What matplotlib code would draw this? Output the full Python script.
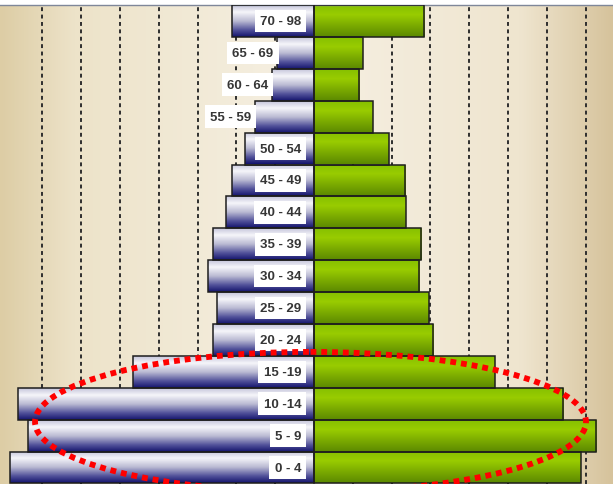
import numpy as np
import matplotlib
matplotlib.use("Agg")
import matplotlib.pyplot as plt
from matplotlib.colors import LinearSegmentedColormap
from matplotlib.patches import Ellipse

# age groups, top to bottom
groups = ["70 - 98", "65 - 69", "60 - 64", "55 - 59", "50 - 54", "45 - 49", "40 - 44",
          "35 - 39", "30 - 34", "25 - 29", "20 - 24", "15 -19", "10 -14", "5 - 9", "0 - 4"]
male = [2.11, 0.95, 1.08, 1.52, 1.78, 2.11, 2.27, 2.60, 2.72, 2.49, 2.60, 4.66, 7.63, 7.37, 7.84]
female = [2.84, 1.26, 1.16, 1.52, 1.93, 2.35, 2.37, 2.76, 2.71, 2.96, 3.07, 4.66, 6.42, 7.27, 6.88]
grid_ticks = [-7, -6, -5, -4, -3, -2, -1, 1, 2, 3, 4, 5, 6, 7]

blue_cmap = LinearSegmentedColormap.from_list(
    "blue", [(0.0, "#c4c4da"), (0.22, "#f6f6fa"), (0.5, "#babad3"), (0.78, "#52529a"), (1.0, "#12126c")])
green_cmap = LinearSegmentedColormap.from_list(
    "green", [(0.0, "#86c000"), (0.3, "#99cc00"), (1.0, "#5b8800")])
bg_cmap = LinearSegmentedColormap.from_list(
    "bg", [(0.0, "#ddcda5"), (0.12, "#ede3c9"), (0.5, "#f6f0e3"), (0.85, "#efe5cf"), (1.0, "#d6c39c")])

fig = plt.figure(figsize=(6.13, 4.85), dpi=100)
fig.patch.set_facecolor("white")
ax = fig.add_axes([0, 0, 1, 1 - 6 / 485])

xlim = (-314 / 38.8, 299 / 38.8)
ylim = (-0.5 + 479 / 31.9, -0.5)

# background
bg = np.linspace(0, 1, 256).reshape(1, -1)
ax.imshow(bg, cmap=bg_cmap, extent=[0, 1, 0, 1], transform=ax.transAxes,
          aspect="auto", zorder=0)

for g in grid_ticks:
    ax.axvline(g, color="#2e2e2e", lw=1.4, linestyle=(0, (2.0, 1.8)), zorder=1)

y = np.arange(len(groups))
grad = np.linspace(0, 1, 256).reshape(-1, 1)

bars_m = ax.barh(y, [-v for v in male], height=1.0, facecolor="none",
                 edgecolor="#1e1e1e", lw=1.1, zorder=3)
bars_f = ax.barh(y, female, height=1.0, facecolor="none",
                 edgecolor="#1e1e1e", lw=1.1, zorder=3)

for bars, cmap in ((bars_m, blue_cmap), (bars_f, green_cmap)):
    for b in bars:
        x0 = min(b.get_x(), b.get_x() + b.get_width())
        x1 = max(b.get_x(), b.get_x() + b.get_width())
        y0 = b.get_y()
        y1 = y0 + b.get_height()
        im = ax.imshow(grad, cmap=cmap, extent=[x0, x1, y1, y0],
                       aspect="auto", zorder=2, interpolation="bilinear")
        im.set_clip_path(b)

# age labels
for i, (lab, v) in enumerate(zip(groups, male)):
    if v < 1.6:
        xt = -v - 0.1
    else:
        xt = -0.33
    ax.text(xt, i, lab, ha="right", va="center", fontsize=9.5, fontweight="bold",
            family=["Liberation Sans", "DejaVu Sans"], color="#363636", zorder=4,
            bbox=dict(boxstyle="square,pad=0.4", facecolor="white", edgecolor="none"))

# red dotted ellipse around the youngest groups
ell = Ellipse((-0.09, 12.57), width=14.2, height=4.39, fill=False,
              edgecolor="#ff0000", lw=4.2, linestyle=(0, (1, 0.85)), zorder=5)
ax.add_patch(ell)

ax.set_xlim(*xlim)
ax.set_ylim(*ylim)
ax.set_xticks([])
ax.set_yticks([])
for s in ["left", "right", "bottom"]:
    ax.spines[s].set_visible(False)
ax.spines["top"].set_color("#7f8799")
ax.spines["top"].set_linewidth(1.0)

fig.savefig("out.png", dpi=100)
